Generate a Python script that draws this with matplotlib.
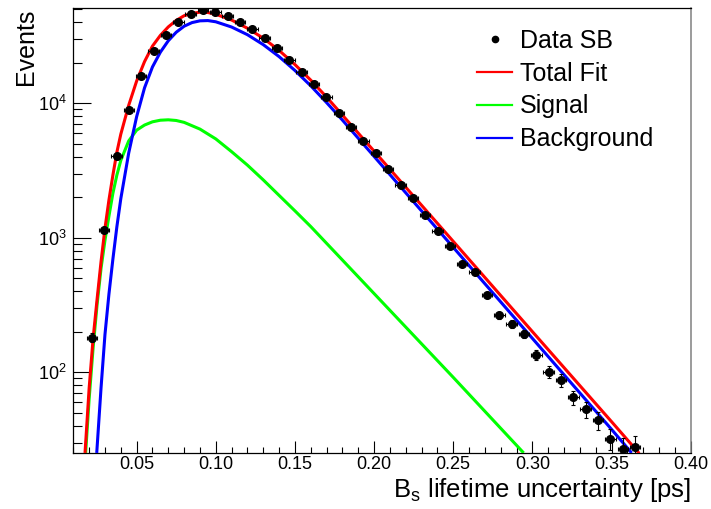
import numpy as np
import matplotlib
matplotlib.use("Agg")
import matplotlib.pyplot as plt
from matplotlib.lines import Line2D
from matplotlib.ticker import LogLocator, LogFormatterMathtext, MultipleLocator, FormatStrFormatter, NullFormatter

plt.rcParams['font.family'] = ['Liberation Sans', 'DejaVu Sans']
plt.rcParams['mathtext.fontset'] = 'custom'
plt.rcParams['mathtext.rm'] = 'Liberation Sans'
plt.rcParams['mathtext.it'] = 'Liberation Sans:italic'
plt.rcParams['mathtext.bf'] = 'Liberation Sans:bold'

# ---- sideband data: 50 bins on [0.01, 0.40] ps, bins 1..45 shown ----
bin_edges = np.linspace(0.01, 0.40, 51)
bin_centers = 0.5 * (bin_edges[:-1] + bin_edges[1:])
data_counts = [181, 1137, 4036, 8916, 15960, 24270, 32290, 39880, 45730, 49100,
               48100, 44360, 39880, 35500, 30670, 25640, 20990, 17100, 13840, 11200,
               8470, 6700, 5250, 4250, 3250, 2455, 1966, 1479, 1130, 865,
               638, 557, 378, 265, 228, 193, 134, 101, 87, 65,
               53, 44, 32, 27, 28]
first_bin = 1

# ---- fit components ----
fit_x = [0.0174, 0.020, 0.0225, 0.025, 0.0275, 0.030, 0.0325, 0.035, 0.0375, 0.040,
         0.045, 0.050, 0.055, 0.060, 0.065, 0.070, 0.075, 0.080, 0.085, 0.090,
         0.095, 0.100, 0.110, 0.120, 0.130, 0.140, 0.150, 0.160, 0.170, 0.180,
         0.200, 0.250, 0.300, 0.350, 0.3675]
fit_y = [25.1, 75.9, 178, 347, 661, 1175, 1905, 2917, 4315, 5888,
         9661, 14620, 20420, 26610, 31990, 36980, 41300, 44770, 46670, 47530,
         47320, 45920, 41590, 36140, 30480, 24720, 19410, 14860, 11120, 8166,
         4406, 940, 200.4, 42.9, 24.9]

sig_x = [0.0178, 0.020, 0.0225, 0.025, 0.0275, 0.030, 0.0325, 0.035, 0.0375, 0.040,
         0.045, 0.050, 0.055, 0.060, 0.065, 0.070, 0.075, 0.080, 0.090, 0.100,
         0.110, 0.120, 0.130, 0.140, 0.150, 0.160, 0.200, 0.250, 0.2945]
sig_y = [25.1, 63.1, 151, 316, 589, 955, 1445, 2138, 2917, 3758,
         5248, 6310, 6887, 7278, 7482, 7534, 7447, 7211, 6427, 5433,
         4365, 3467, 2692, 2065, 1585, 1211, 384.6, 91.6, 25.1]

bkg_x = [0.0248, 0.0275, 0.030, 0.0325, 0.035, 0.0375, 0.040, 0.045, 0.050, 0.055,
         0.060, 0.065, 0.070, 0.075, 0.080, 0.085, 0.090, 0.095, 0.100, 0.110,
         0.120, 0.130, 0.140, 0.150, 0.160, 0.170, 0.180, 0.200, 0.250, 0.300,
         0.350, 0.3627]
bkg_y = [25.1, 75.9, 190.5, 380, 692, 1202, 1950, 4266, 7943, 13030,
         18620, 23990, 29170, 33730, 37410, 39810, 41020, 41210, 40360, 36900,
         32360, 27290, 22230, 17540, 13490, 10120, 7499, 4027, 849, 178.6,
         37.6, 25.1]

legend_labels = ['Data SB', 'Total Fit', 'Signal', 'Background']

fig = plt.figure(figsize=(7.11, 5.09), dpi=100)
ax = fig.add_axes([0.1031, 0.1106, 0.8683, 0.8731])

ax.plot(sig_x, sig_y, color='#00ff00', lw=2.2, solid_capstyle='butt', zorder=3)
ax.plot(bkg_x, bkg_y, color='#0000ff', lw=2.2, solid_capstyle='butt', zorder=3)
ax.plot(fit_x, fit_y, color='#ff0000', lw=2.2, solid_capstyle='butt', zorder=4)

counts = np.array(data_counts, dtype=float)
xc = bin_centers[first_bin:first_bin + len(counts)]
half_w = 0.5 * (bin_edges[1] - bin_edges[0])
ax.errorbar(xc, counts, yerr=np.sqrt(counts), xerr=half_w * 0.85, fmt='o',
            color='black', ms=5.5, elinewidth=0.8, capsize=1.6, capthick=0.8, zorder=5)

ax.set_xscale('linear')
ax.set_yscale('log')
ax.set_xlim(0.01, 0.40)
ax.set_ylim(25.2, 50850)

ax.xaxis.set_major_locator(MultipleLocator(0.05))
ax.xaxis.set_minor_locator(MultipleLocator(0.01))
ax.xaxis.set_major_formatter(FormatStrFormatter('%.2f'))
ax.yaxis.set_major_locator(LogLocator(base=10))
ax.yaxis.set_minor_locator(LogLocator(base=10, subs=np.arange(2, 10)))
ax.yaxis.set_major_formatter(LogFormatterMathtext())
ax.yaxis.set_minor_formatter(NullFormatter())

ax.tick_params(axis='x', which='major', direction='in', length=8.6, width=0.8,
               labelsize=13, pad=2.5, top=False)
ax.tick_params(axis='x', which='minor', direction='in', length=4.3, width=0.8, top=False)
ax.tick_params(axis='y', which='major', direction='in', length=13, width=0.8,
               labelsize=13, pad=4.5, right=False)
ax.tick_params(axis='y', which='minor', direction='in', length=6.5, width=0.8, right=False)

for side in ('left', 'bottom', 'top'):
    ax.spines[side].set_color('black')
    ax.spines[side].set_linewidth(0.9)
ax.spines['right'].set_color('#808080')
ax.spines['right'].set_linewidth(1.1)

ax.set_xlabel(r'$\mathregular{B_{s}}$ lifetime uncertainty [ps]', fontsize=18.5, loc='right')
ax.xaxis.label.set_verticalalignment('baseline')
ax.xaxis.set_label_coords(1.0, -0.1004)
ax.set_ylabel('Events', fontsize=18, loc='top')
ax.yaxis.set_label_coords(-0.057, 1.0)

handles = [
    Line2D([], [], ls='none', marker='o', color='black', ms=4.5),
    Line2D([], [], color='#ff0000', lw=1.6),
    Line2D([], [], color='#00ff00', lw=1.6),
    Line2D([], [], color='#0000ff', lw=1.6),
]
fig.legend(handles, legend_labels, loc='upper left',
           bbox_to_anchor=(477 / 711, 1 - 29 / 509), frameon=False,
           fontsize=18, handlelength=1.4, handletextpad=0.32, labelspacing=0.35,
           borderpad=0, borderaxespad=0)

fig.savefig('out.png', dpi=100)
